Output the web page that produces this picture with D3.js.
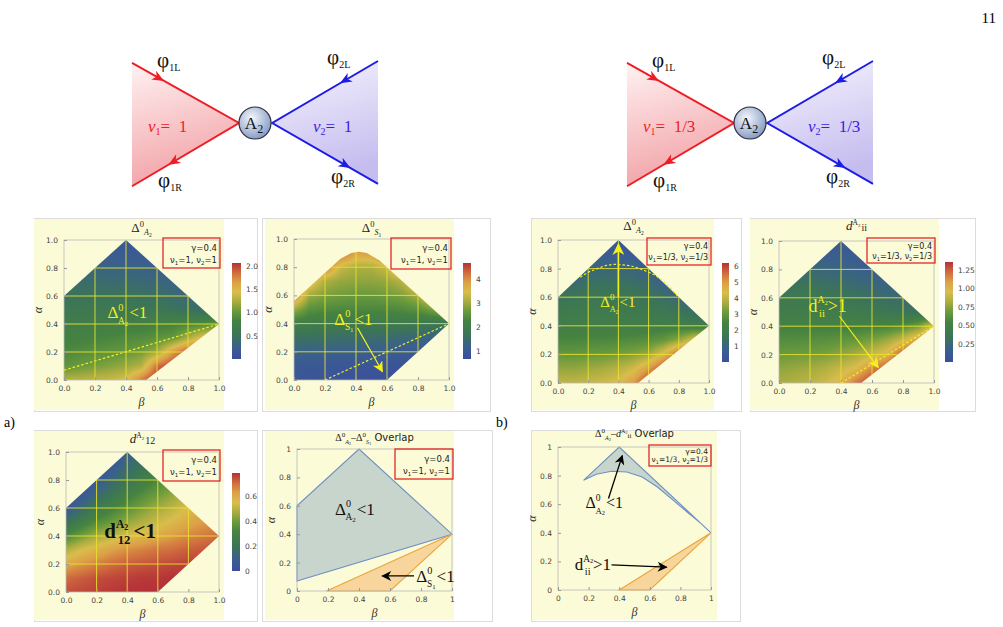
<!DOCTYPE html>
<html lang="en"><head>
<meta charset="utf-8">
<title>A2 junction maps</title>
<script src="https://cdn.jsdelivr.net/npm/d3@7"></script>
<style>
body{margin:0;background:#fff}
svg{display:block}
</style>
</head>
<body>
<script>
// ---------- data ----------
var axisTicks = [0, 0.2, 0.4, 0.6, 0.8, 1];
var gridStep = 0.1; // grid nodes beta = 0..1 (columns), alpha = 0..1 (rows, from alpha=0)

// allowed region of each density plot, [beta, alpha]
var regionKite = [[0,0],[0.53,0],[1,0.4],[0.4,1],[0,0.6]];
var regionS1 = [[0,0],[0.6,0],[1,0.4],[0.55,0.85],[0.47,0.9],[0.42,0.91],[0.37,0.9],[0.3,0.86],[0,0.56]];
var region12 = [[0,0],[0.6,0],[1,0.4],[0.4,1],[0,0.6]];

// Delta0_A2, nu=1
var gridA2nu1 = [
  [1.28,1.3,1.33,1.37,1.45,1.8,2.06,2.06,2.06,2.06,2.06],
  [0.97,1.02,1.07,1.12,1.18,1.28,1.85,2.0,2.06,2.06,2.06],
  [0.86,0.9,0.94,0.98,1.0,1.06,1.2,1.65,1.95,2.0,2.0],
  [0.78,0.8,0.82,0.85,0.88,0.9,0.95,1.0,1.25,1.5,1.5],
  [0.7,0.7,0.7,0.72,0.74,0.75,0.78,0.8,0.85,0.9,1.0],
  [0.6,0.6,0.6,0.6,0.6,0.58,0.56,0.52,0.48,0.42,0.4],
  [0.5,0.5,0.5,0.5,0.5,0.48,0.45,0.4,0.35,0.3,0.3],
  [0.45,0.42,0.42,0.4,0.4,0.38,0.35,0.3,0.25,0.2,0.2],
  [0.35,0.35,0.32,0.3,0.3,0.28,0.25,0.2,0.2,0.2,0.2],
  [0.3,0.3,0.25,0.22,0.2,0.2,0.2,0.2,0.2,0.2,0.2],
  [0.15,0.15,0.15,0.15,0.12,0.15,0.15,0.15,0.15,0.15,0.15]
];
var rangeA2nu1 = [0, 2.06];
var ticksA2nu1 = [0.5, 1.0, 1.5, 2.0];
var lineA2nu1 = [[0,0.07],[1,0.4]];

// Delta0_S1, nu=1
var gridS1nu1 = [
  [0.9,0.85,0.82,0.8,0.78,0.76,0.74,0.72,0.7,0.7,0.7],
  [1.0,0.98,0.95,0.92,0.9,0.88,0.85,0.82,0.8,0.8,0.8],
  [1.25,1.22,1.2,1.18,1.15,1.12,1.1,1.05,1.0,0.95,0.95],
  [1.6,1.58,1.55,1.52,1.5,1.48,1.45,1.4,1.35,1.25,1.2],
  [2.1,2.0,1.95,1.92,1.9,1.9,1.9,1.9,1.85,1.8,1.7],
  [3.0,2.5,2.4,2.35,2.35,2.35,2.35,2.4,2.5,2.8,3.2],
  [4.2,3.0,2.8,2.7,2.65,2.65,2.7,2.8,3.1,3.8,4.2],
  [4.4,3.8,3.1,2.95,2.9,2.9,2.95,3.2,3.9,4.4,4.4],
  [4.5,4.5,4.2,3.3,3.1,3.1,3.35,4.2,4.5,4.5,4.5],
  [4.6,4.6,4.6,4.4,3.8,3.9,4.5,4.6,4.6,4.6,4.6],
  [4.67,4.67,4.67,4.67,4.67,4.67,4.67,4.67,4.67,4.67,4.67]
];
var rangeS1nu1 = [0.67, 4.67];
var ticksS1nu1 = [1, 2, 3, 4];
var lineS1nu1 = [[0.2,0],[1,0.4]];

// Delta0_A2, nu=1/3
var gridA2nu3 = [
  [4.0,4.0,4.1,4.2,4.4,5.0,6.2,6.2,6.2,6.2,6.2],
  [3.5,3.5,3.6,3.7,3.9,4.2,5.0,6.0,6.2,6.2,6.2],
  [3.0,3.0,3.05,3.1,3.2,3.35,3.6,4.5,5.8,6.0,6.0],
  [2.55,2.55,2.6,2.6,2.65,2.7,2.8,3.0,3.5,4.4,4.5],
  [2.15,2.15,2.15,2.15,2.15,2.15,2.15,2.2,2.2,2.1,2.0],
  [1.9,1.95,1.95,1.95,1.95,1.9,1.85,1.75,1.55,1.3,1.1],
  [1.5,1.65,1.75,1.75,1.75,1.7,1.55,1.35,1.0,0.8,0.7],
  [1.0,1.15,1.35,1.45,1.45,1.35,1.15,0.85,0.7,0.6,0.6],
  [0.7,0.8,1.0,1.02,1.0,0.95,0.7,0.6,0.5,0.5,0.5],
  [0.5,0.5,0.6,0.65,0.65,0.6,0.5,0.5,0.5,0.5,0.5],
  [0.3,0.3,0.3,0.3,0.3,0.3,0.3,0.3,0.3,0.3,0.3]
];
var rangeA2nu3 = [0, 6.2];
var ticksA2nu3 = [1, 2, 3, 4, 5, 6];
var curveA2nu3 = [[0.147,0.74],[0.2,0.775],[0.26,0.8],[0.32,0.822],[0.37,0.83],[0.43,0.826],[0.48,0.82],[0.54,0.8],[0.59,0.78],[0.65,0.75],[0.7,0.71],[0.75,0.66],[0.79,0.61]];

// d^A2_ii, nu=1/3
var gridDii = [
  [0.82,0.84,0.87,0.92,1.0,1.2,1.36,1.36,1.36,1.36,1.36],
  [0.76,0.78,0.8,0.84,0.9,0.97,1.15,1.3,1.36,1.36,1.36],
  [0.68,0.69,0.7,0.72,0.76,0.82,0.9,1.0,1.3,1.36,1.36],
  [0.6,0.6,0.61,0.62,0.64,0.67,0.72,0.8,0.92,1.1,1.25],
  [0.52,0.52,0.52,0.52,0.52,0.52,0.53,0.55,0.6,0.7,1.0],
  [0.45,0.45,0.45,0.45,0.44,0.43,0.41,0.38,0.35,0.32,0.3],
  [0.4,0.4,0.4,0.38,0.36,0.33,0.3,0.27,0.25,0.25,0.25],
  [0.33,0.33,0.32,0.3,0.28,0.25,0.22,0.2,0.2,0.2,0.2],
  [0.25,0.25,0.25,0.22,0.2,0.18,0.15,0.15,0.15,0.15,0.15],
  [0.18,0.18,0.18,0.16,0.15,0.13,0.12,0.12,0.12,0.12,0.12],
  [0.1,0.1,0.1,0.1,0.1,0.1,0.1,0.1,0.1,0.1,0.1]
];
var rangeDii = [0, 1.36];
var ticksDii = [0.25, 0.5, 0.75, 1.0, 1.25];
var lineDii = [[0.4,0],[1,0.4]];

// d^A2_12, nu=1
var gridD12 = [
  [0.74,0.75,0.76,0.77,0.78,0.78,0.78,0.78,0.78,0.78,0.78],
  [0.7,0.72,0.74,0.75,0.76,0.77,0.77,0.78,0.78,0.78,0.78],
  [0.6,0.64,0.67,0.7,0.72,0.73,0.74,0.75,0.76,0.76,0.76],
  [0.48,0.54,0.58,0.62,0.65,0.67,0.69,0.7,0.72,0.73,0.74],
  [0.33,0.4,0.46,0.5,0.54,0.57,0.6,0.63,0.66,0.68,0.7],
  [0.18,0.27,0.34,0.39,0.44,0.48,0.52,0.56,0.6,0.63,0.65],
  [0.05,0.14,0.23,0.3,0.36,0.41,0.46,0.5,0.55,0.58,0.6],
  [0.02,0.05,0.13,0.21,0.28,0.34,0.39,0.44,0.49,0.52,0.54],
  [0.0,0.02,0.05,0.13,0.2,0.27,0.33,0.38,0.43,0.46,0.48],
  [0.0,0.0,0.02,0.06,0.14,0.2,0.26,0.32,0.38,0.42,0.45],
  [0.0,0.0,0.0,0.02,0.1,0.16,0.22,0.28,0.34,0.4,0.42]
];
var rangeD12 = [0, 0.78];
var ticksD12 = [0, 0.2, 0.4, 0.6];

// overlap regions
var overlapA2nu1 = [[0,0.07],[0,0.6],[0.4,1],[1,0.4]];
var overlapS1nu1 = [[0.19,0],[0.6,0],[1,0.4]];
var overlapA2nu3 = [[0.167,0.767],[0.4,1],[1,0.4],[0.93,0.47],[0.85,0.54],[0.75,0.63],[0.65,0.72],[0.55,0.79],[0.45,0.825],[0.35,0.83],[0.25,0.81]];
var overlapDii = [[0.4,0],[0.6,0],[1,0.4]];

// colour map stops (Mathematica-like dark rainbow)
var cmapStops = [0, 0.12, 0.25, 0.4, 0.5, 0.6, 0.7, 0.8, 0.9, 1];
var cmapColors = ["#3b4e9e","#3a5f8e","#3b7458","#468340","#6a9a3c","#a9ad40","#d9bd4c","#dca046","#cf6b3e","#b43137"];

// ---------- page ----------
var W = 1003, H = 627;
var svg = d3.select("body").append("svg").attr("width", W).attr("height", H)
  .style("font-family", "'Liberation Serif', serif");
svg.append("rect").attr("width", W).attr("height", H).attr("fill", "#fff");
var defs = svg.append("defs");

var YEL = "#f4f01e", BG = "#fcfbd7";

function marker(id, color, len, wid) {
  defs.append("marker").attr("id", id).attr("viewBox", "0 0 10 10")
    .attr("refX", 9).attr("refY", 5).attr("markerUnits", "userSpaceOnUse")
    .attr("markerWidth", len).attr("markerHeight", wid).attr("orient", "auto")
    .append("path").attr("d", "M0,0L10,5L0,10L3,5Z").attr("fill", color);
}
marker("ahY", YEL, 13, 11);
marker("ahYbig", YEL, 15, 12);
marker("ahK", "#000", 13, 10);

// rich text with offsets (o = baseline offset)
function rich(g, x, y, parts, attrs) {
  var t = g.append("text").attr("x", x).attr("y", y);
  for (var k in (attrs || {})) t.attr(k, attrs[k]);
  var prev = 0;
  parts.forEach(function(p){
    var off = p.o || 0;
    var ts = t.append("tspan").attr("dy", off - prev).attr("font-size", p.s).text(p.t);
    if (p.dx) ts.attr("dx", p.dx);
    if (p.i) ts.attr("font-style", "italic");
    if (p.f) ts.attr("font-family", p.f);
    prev = off;
  });
  return t;
}

svg.append("text").attr("x", 996).attr("y", 23).attr("text-anchor", "end")
  .attr("font-size", 15).text("11");
svg.append("text").attr("x", 4).attr("y", 427).attr("font-size", 14).text("a)");
svg.append("text").attr("x", 496).attr("y", 427).attr("font-size", 14).text("b)");

// ---------- junction diagrams ----------
var wedgeIn = [[-1,-0.97],[-0.13,0],[-1,1.02]];
var wedgeOut = [[1,-1.0],[0.14,0],[1,0.98]];
var red = "#ee1c24", blue = "#1c1ce6";

var gR = defs.append("linearGradient").attr("id", "gRed").attr("x1", 0).attr("y1", 0).attr("x2", 0.25).attr("y2", 1);
gR.append("stop").attr("offset", 0).attr("stop-color", "#fff2f2");
gR.append("stop").attr("offset", 1).attr("stop-color", "#f2a3a8");
var gB = defs.append("linearGradient").attr("id", "gBlue").attr("x1", 0).attr("y1", 0).attr("x2", 0.25).attr("y2", 1);
gB.append("stop").attr("offset", 0).attr("stop-color", "#f6f4fd");
gB.append("stop").attr("offset", 1).attr("stop-color", "#c6bdef");
var gC = defs.append("radialGradient").attr("id", "gHub").attr("cx", 0.4).attr("cy", 0.35).attr("r", 0.7);
gC.append("stop").attr("offset", 0).attr("stop-color", "#f5f7fc");
gC.append("stop").attr("offset", 1).attr("stop-color", "#8097c2");

function arrowHead(g, p0, p1, t, color) {
  var x = p0[0] + (p1[0]-p0[0])*t, y = p0[1] + (p1[1]-p0[1])*t;
  var ang = Math.atan2(p1[1]-p0[1], p1[0]-p0[0]) * 180 / Math.PI;
  g.append("path").attr("d", "M0,0L-12,-5L-8.5,0L-12,5Z")
    .attr("transform", "translate(" + x + "," + y + ") rotate(" + ang + ")")
    .attr("fill", color);
}

function junction(cx, nuText) {
  var sx = d3.scaleLinear().domain([-1,1]).range([cx-123, cx+123]);
  var sy = d3.scaleLinear().domain([-1,1]).range([123-62, 123+62]);
  var P = function(d){ return [sx(d[0]), sy(d[1])]; };
  var g = svg.append("g");
  var a = wedgeIn.map(P), b = wedgeOut.map(P);
  g.append("path").attr("d", "M" + a.join("L") + "Z").attr("fill", "url(#gRed)");
  g.append("path").attr("d", "M" + b.join("L") + "Z").attr("fill", "url(#gBlue)");
  g.append("path").attr("d", "M" + a.join("L")).attr("fill", "none").attr("stroke", red).attr("stroke-width", 2);
  g.append("path").attr("d", "M" + b.join("L")).attr("fill", "none").attr("stroke", blue).attr("stroke-width", 2);
  arrowHead(g, a[0], a[1], 0.3, red);
  arrowHead(g, a[1], a[2], 0.66, red);
  arrowHead(g, b[0], b[1], 0.36, blue);
  arrowHead(g, b[1], b[2], 0.74, blue);
  g.append("circle").attr("cx", cx).attr("cy", 123).attr("r", 16)
    .attr("fill", "url(#gHub)").attr("stroke", "#2b2b3a").attr("stroke-width", 1.2);
  rich(g, cx - 1, 129, [{t:"A", s:17}, {t:"2", s:12, o:4}], {"text-anchor":"middle", fill:"#111"});
  var lab = [["1L", -98, 67], ["1R", -97, 187], ["2L", 72, 64], ["2R", 76, 183]];
  lab.forEach(function(l){
    rich(g, cx + l[1], l[2], [{t:"φ", s:21}, {t:l[0], s:10, o:4}], {fill:"#111"});
  });
  rich(g, cx - 107, 132, [{t:"ν", s:17, i:true}, {t:"1", s:10, o:3}, {t:"=  " + nuText, s:17, o:0}], {fill:red, "xml:space":"preserve"});
  rich(g, cx + 58, 132, [{t:"ν", s:17, i:true}, {t:"2", s:10, o:3}, {t:"=  " + nuText, s:17, o:0}], {fill:"#3a1ee0", "xml:space":"preserve"});
}
junction(255, "1");
junction(750, "1/3");

// ---------- panels ----------
var cmapFor = function(r){
  return d3.scaleLinear().domain(cmapStops.map(function(s){ return r[0] + s*(r[1]-r[0]); }))
    .range(cmapColors).clamp(true);
};

function bilerp(grid, b, a) {
  var n = grid.length - 1;
  var fi = Math.max(0, Math.min(n, a / gridStep)), fj = Math.max(0, Math.min(n, b / gridStep));
  var i0 = Math.min(n-1, Math.floor(fi)), j0 = Math.min(n-1, Math.floor(fj));
  var ti = fi - i0, tj = fj - j0;
  var v00 = grid[i0][j0], v01 = grid[i0][j0+1], v10 = grid[i0+1][j0], v11 = grid[i0+1][j0+1];
  return (v00*(1-tj) + v01*tj)*(1-ti) + (v10*(1-tj) + v11*tj)*ti;
}

var clipN = 0;
function panel(p) {
  var g = svg.append("g");
  g.append("rect").attr("x", p.frame[0]+0.5).attr("y", p.frame[1]+0.5)
    .attr("width", p.frame[2]-p.frame[0]).attr("height", p.frame[3]-p.frame[1])
    .attr("fill", "#fff").attr("stroke", "#dcdcdc");
  g.append("rect").attr("x", p.bg[0]).attr("y", p.bg[1])
    .attr("width", p.bg[2]-p.bg[0]).attr("height", p.bg[3]-p.bg[1]).attr("fill", BG);

  var x = d3.scaleLinear().domain([0,1]).range(p.px);
  var y = d3.scaleLinear().domain([0,1]).range(p.py);
  var line = d3.line().x(function(d){ return x(d[0]); }).y(function(d){ return y(d[1]); });

  if (p.grid) {
    var id = "clip" + (clipN++);
    defs.append("clipPath").attr("id", id).append("path").attr("d", line(p.region) + "Z");
    var x0 = p.px[0], y0 = p.py[1], w = Math.round(p.px[1]-p.px[0]), h = Math.round(p.py[0]-p.py[1]);
    var col = cmapFor(p.range);
    var cv = document.createElement("canvas"); cv.width = w; cv.height = h;
    var ctx = cv.getContext("2d"), img = ctx.createImageData(w, h);
    for (var r = 0; r < h; r++) for (var c = 0; c < w; c++) {
      var v = bilerp(p.grid, x.invert(x0 + c + 0.5), y.invert(y0 + r + 0.5));
      var cc = d3.rgb(col(v)), k = (r*w + c)*4;
      img.data[k] = cc.r; img.data[k+1] = cc.g; img.data[k+2] = cc.b; img.data[k+3] = 255;
    }
    ctx.putImageData(img, 0, 0);
    var gc = g.append("g").attr("clip-path", "url(#" + id + ")");
    gc.append("image").attr("x", x0).attr("y", y0).attr("width", w).attr("height", h)
      .attr("preserveAspectRatio", "none").attr("href", cv.toDataURL());
    axisTicks.slice(1, 5).forEach(function(t){
      gc.append("line").attr("x1", x(t)).attr("x2", x(t)).attr("y1", y(0)).attr("y2", y(1))
        .attr("stroke", "#e8e230").attr("stroke-width", 0.9);
      gc.append("line").attr("x1", x(0)).attr("x2", x(1)).attr("y1", y(t)).attr("y2", y(t))
        .attr("stroke", "#e8e230").attr("stroke-width", 0.9);
    });
    // colour bar
    var gid = "cb" + clipN;
    var lg = defs.append("linearGradient").attr("id", gid).attr("x1", 0).attr("y1", 1).attr("x2", 0).attr("y2", 0);
    cmapStops.forEach(function(s, i){ lg.append("stop").attr("offset", s).attr("stop-color", cmapColors[i]); });
    g.append("rect").attr("x", p.cb[0]).attr("y", p.cb[1]).attr("width", p.cb[2]-p.cb[0])
      .attr("height", p.cb[3]-p.cb[1]).attr("fill", "url(#" + gid + ")");
    var cs = d3.scaleLinear().domain(p.range).range([p.cb[3], p.cb[1]]);
    var ca = g.append("g").attr("transform", "translate(" + p.cb[2] + ",0)")
      .call(d3.axisRight(cs).tickValues(p.cbTicks).tickFormat(p.cbFmt).tickSize(0).tickPadding(5));
    ca.select(".domain").remove();
    ca.selectAll("text").attr("font-family", "'DejaVu Sans', sans-serif").attr("font-size", 7.5).attr("fill", "#444");
  }

  (p.polys || []).forEach(function(q){
    g.append("path").attr("d", line(q.pts) + "Z").attr("fill", q.fill).attr("stroke", q.stroke).attr("stroke-width", 1.1);
  });

  // frame + axes
  g.append("rect").attr("x", p.px[0]).attr("y", p.py[1]).attr("width", p.px[1]-p.px[0])
    .attr("height", p.py[0]-p.py[1]).attr("fill", "none").attr("stroke", "#b9b9b9").attr("stroke-width", 0.8);
  var fmt = p.grid ? d3.format(".1f") : function(d){ return d === 0 ? "0" : d === 1 ? "1" : d3.format(".1f")(d); };
  var ax = g.append("g").attr("transform", "translate(0," + p.py[0] + ")")
    .call(d3.axisBottom(x).tickValues(axisTicks).tickFormat(fmt).tickSizeInner(-3).tickSizeOuter(0).tickPadding(6));
  var ay = g.append("g").attr("transform", "translate(" + p.px[0] + ",0)")
    .call(d3.axisLeft(y).tickValues(axisTicks).tickFormat(fmt).tickSizeInner(-3).tickSizeOuter(0).tickPadding(6));
  [ax, ay].forEach(function(a){
    a.select(".domain").remove();
    a.selectAll("line").attr("stroke", "#999");
    a.selectAll("text").attr("font-family", "'DejaVu Sans', sans-serif").attr("font-size", 7.5).attr("fill", "#444");
  });
  g.append("text").attr("x", (p.px[0]+p.px[1])/2).attr("y", p.py[0] + 26).attr("text-anchor", "middle")
    .attr("font-size", 12).attr("font-style", "italic").attr("fill", "#333").text("β");
  g.append("text").attr("transform", "translate(" + (p.px[0]-22) + "," + ((p.py[0]+p.py[1])/2) + ") rotate(-90)")
    .attr("text-anchor", "middle").attr("font-size", 12).attr("font-style", "italic").attr("fill", "#333").text("α");

  // title
  rich(g, (p.px[0]+p.px[1])/2, p.titleY, p.title, {"text-anchor":"middle", fill:"#222"});

  // legend box
  var L = p.legend;
  g.append("rect").attr("x", L[0]).attr("y", L[1]).attr("width", L[2]-L[0]).attr("height", L[3]-L[1])
    .attr("fill", "none").attr("stroke", "#e32626").attr("stroke-width", 1.3);
  var lh = (L[3]-L[1]), fs = Math.min(p.nu === "1" ? 8.5 : 8, lh*0.36);
  g.append("text").attr("x", L[2]-3).attr("y", L[1] + lh*0.42).attr("text-anchor", "end")
    .attr("font-family", "'DejaVu Sans', sans-serif").attr("font-size", fs).attr("fill", "#222").text("γ=0.4");
  rich(g, L[2]-3, L[1] + lh*0.82, [
    {t:"ν", s:fs}, {t:"1", s:fs*0.65, o:2}, {t:"=" + p.nu + ", ν", s:fs, o:0}, {t:"2", s:fs*0.65, o:2}, {t:"=" + p.nu, s:fs, o:0}
  ], {"text-anchor":"end", "font-family":"'DejaVu Sans', sans-serif", fill:"#222"});

  // contour lines
  (p.dashed || []).forEach(function(d){
    g.append("path").attr("d", line(d)).attr("fill", "none").attr("stroke", YEL)
      .attr("stroke-width", 1.2).attr("stroke-dasharray", "2.5,2");
  });
  (p.arrows || []).forEach(function(a){
    g.append("line").attr("x1", x(a.from[0])).attr("y1", y(a.from[1])).attr("x2", x(a.to[0])).attr("y2", y(a.to[1]))
      .attr("stroke", a.color).attr("stroke-width", a.w || 1.2).attr("marker-end", "url(#" + a.head + ")");
  });
  (p.labels || []).forEach(function(l){
    rich(g, x(l.at[0]), y(l.at[1]), l.parts, {fill:l.color, "font-weight":l.bold ? "bold" : null});
  });
  return g;
}

// pieces for the math labels
function deltaParts(fs, sub, sub2, tail) {
  return [
    {t:"Δ", s:fs}, {t:"0", s:fs*0.6, o:-fs*0.45},
    {t:sub, s:fs*0.55, o:fs*0.32, dx:-fs*0.32}, {t:sub2, s:fs*0.4, o:fs*0.42},
    {t:tail, s:fs, o:0, dx:1}
  ];
}
function dParts(fs, sub, tail) {
  return [
    {t:"d", s:fs}, {t:"A", s:fs*0.55, o:-fs*0.48}, {t:"2", s:fs*0.38, o:-fs*0.4},
    {t:sub, s:fs*0.6, o:fs*0.3, dx:-fs*0.5}, {t:tail, s:fs, o:0, dx:fs*0.15}
  ];
}
var titleDelta = function(sub) {
  return [{t:"Δ", s:13}, {t:"0", s:8.5, o:-5}, {t:sub, s:8, o:3, i:true}, {t:sub === "A" ? "2" : "1", s:5.5, o:5}];
};
var titleD = function(sub) {
  return [{t:"d", s:13, i:true}, {t:"A", s:7.5, o:-5}, {t:"2", s:5, o:-3.5}, {t:sub, s:10, o:1, dx:1}];
};

panel({
  frame:[34,218,257,411], bg:[34,219,224,410], px:[64,219], py:[380,240],
  grid:gridA2nu1, region:regionKite, range:rangeA2nu1, cb:[232,263,241,359],
  cbTicks:ticksA2nu1, cbFmt:d3.format(".1f"), legend:[163,238,220,268], nu:"1",
  titleY:232, title:titleDelta("A"),
  dashed:[lineA2nu1],
  labels:[{at:[0.28,0.44], parts:deltaParts(17, "A", "2", "<1"), color:YEL}]
});
panel({
  frame:[262,218,490,411], bg:[265,219,454,410], px:[294,449], py:[380,239],
  grid:gridS1nu1, region:regionS1, range:rangeS1nu1, cb:[463,263,471,359],
  cbTicks:ticksS1nu1, cbFmt:d3.format("d"), legend:[391,238,451,269], nu:"1",
  titleY:232, title:titleDelta("S"),
  dashed:[lineS1nu1],
  arrows:[{from:[0.41,0.37], to:[0.57,0.06], color:YEL, head:"ahY"}],
  labels:[{at:[0.26,0.39], parts:deltaParts(17, "S", "1", "<1"), color:YEL}]
});
panel({
  frame:[531,218,741,411], bg:[532,219,714,410], px:[558,709], py:[383,240],
  grid:gridA2nu3, region:regionKite, range:rangeA2nu3, cb:[722,263,729,362],
  cbTicks:ticksA2nu3, cbFmt:d3.format("d"), legend:[647,238,711,265], nu:"1/3",
  titleY:230, title:titleDelta("A"),
  dashed:[curveA2nu3],
  arrows:[{from:[0.4,0.6], to:[0.4,0.97], color:YEL, head:"ahYbig", w:1.6}],
  labels:[{at:[0.28,0.53], parts:deltaParts(15, "A", "2", "<1"), color:YEL}]
});
panel({
  frame:[750,218,975,411], bg:[750,219,939,410], px:[779,934], py:[383,241],
  grid:gridDii, region:regionKite, range:rangeDii, cb:[945,262,953,362],
  cbTicks:ticksDii, cbFmt:d3.format(".2f"), legend:[867,238,935,263], nu:"1/3",
  titleY:230, title:titleD("ii"),
  dashed:[lineDii],
  arrows:[{from:[0.39,0.47], to:[0.64,0.11], color:YEL, head:"ahY"}],
  labels:[{at:[0.19,0.5], parts:dParts(18, "ii", ">1"), color:YEL}]
});
panel({
  frame:[34,430,257,621], bg:[34,431,224,620], px:[66,219], py:[592,452],
  grid:gridD12, region:region12, range:rangeD12, cb:[232,473,240,571],
  cbTicks:ticksD12, cbFmt:function(d){ return d === 0 ? "0" : d3.format(".1f")(d); },
  legend:[163,450,220,481], nu:"1",
  titleY:443, title:titleD("12"),
  labels:[{at:[0.25,0.385], parts:dParts(21, "12", "<1"), color:"#111", bold:true}]
});
panel({
  frame:[262,430,492,621], bg:[265,431,454,620], px:[297,452], py:[591,449],
  legend:[395,449,453,479], nu:"1",
  titleY:441,
  title:[{t:"Δ", s:10}, {t:"0", s:7, o:-4}, {t:"A", s:6, o:2.5, i:true}, {t:"2", s:4.5, o:3.5},
         {t:"–Δ", s:10, o:0}, {t:"0", s:7, o:-4}, {t:"S", s:6, o:2.5, i:true}, {t:"1", s:4.5, o:3.5},
         {t:" Overlap", s:10, o:0, f:"'DejaVu Sans', sans-serif"}],
  polys:[{pts:overlapA2nu1, fill:"#c8d5cc", stroke:"#6f8fc4"}, {pts:overlapS1nu1, fill:"#f7d59c", stroke:"#eaa63a"}],
  arrows:[{from:[0.755,0.106], to:[0.55,0.106], color:"#000", head:"ahK", w:1.3}],
  labels:[{at:[0.245,0.535], parts:deltaParts(17, "A", "2", "<1"), color:"#111"},
          {at:[0.77,0.063], parts:deltaParts(17, "S", "1", "<1"), color:"#111"}]
});
panel({
  frame:[531,430,740,621], bg:[532,431,717,620], px:[558,711], py:[590,447],
  legend:[649,445,711,466], nu:"1/3",
  titleY:437,
  title:[{t:"Δ", s:10}, {t:"0", s:7, o:-4}, {t:"A", s:6, o:2.5, i:true}, {t:"2", s:4.5, o:3.5},
         {t:"–", s:10, o:0}, {t:"d", s:10, i:true}, {t:"A", s:6, o:-4}, {t:"2", s:4.5, o:-3},
         {t:"ii", s:7, o:1}, {t:" Overlap", s:10, o:0, f:"'DejaVu Sans', sans-serif"}],
  polys:[{pts:overlapA2nu3, fill:"#c8d5cc", stroke:"#6f8fc4"}, {pts:overlapDii, fill:"#f7d59c", stroke:"#eaa63a"}],
  arrows:[{from:[0.33,0.64], to:[0.42,0.94], color:"#000", head:"ahK", w:1.3},
          {from:[0.35,0.175], to:[0.71,0.16], color:"#000", head:"ahK", w:1.3}],
  labels:[{at:[0.18,0.57], parts:deltaParts(16, "A", "2", "<1"), color:"#111"},
          {at:[0.11,0.14], parts:dParts(17, "ii", ">1"), color:"#111"}]
});
</script>
</body></html>
